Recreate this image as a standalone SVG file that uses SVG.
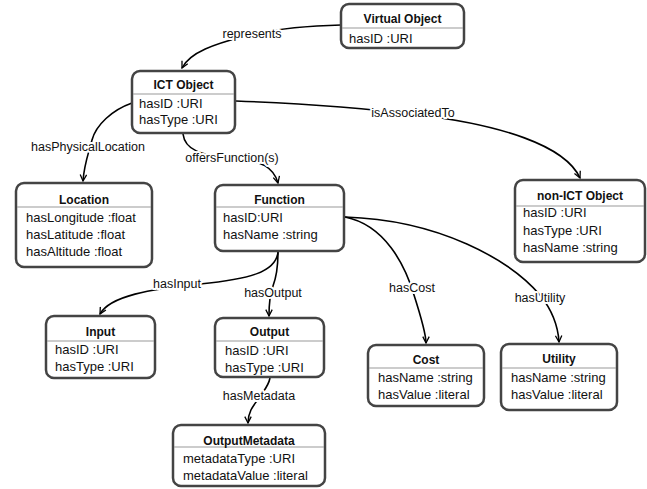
<svg xmlns="http://www.w3.org/2000/svg" width="647" height="489" viewBox="0 0 647 489">
<defs>
<marker id="arr" viewBox="0 0 10 10" refX="9" refY="5" markerWidth="8" markerHeight="8" markerUnits="userSpaceOnUse" orient="auto">
<path d="M1,1 L9,5 L1,9" fill="none" stroke="#000" stroke-width="1.6"/>
</marker>
</defs>
<style>
.box{fill:#fff;stroke:#444;stroke-width:2.5}
.sep{stroke:#999;stroke-width:1}
.t{font-family:"Liberation Sans",Arial,sans-serif;font-size:12px;font-weight:bold;fill:#111;text-anchor:middle}
.r{font-family:"Liberation Sans",Arial,sans-serif;font-size:13px;fill:#111}
.e{fill:none;stroke:#000;stroke-width:1.6;marker-end:url(#arr)}
.l{font-family:"Liberation Sans",Arial,sans-serif;font-size:12.5px;fill:#111;text-anchor:middle;paint-order:stroke;stroke:#fff;stroke-width:4;stroke-linejoin:round}
</style>
<rect width="647" height="489" fill="#fff"/>
<g id="connectors">
<path class="e" d="M341,25 C300,26 270,30 245,36 C215,44 190,52 182,68"/>
<path class="e" d="M236,101 C320,104 380,110 420,115 C500,125 565,145 580,178"/>
<path class="e" d="M132,103 C112,110 96,125 92,140 C88,155 84,165 83,181"/>
<path class="e" d="M183,134 C185,150 200,155 232,158 C262,160 274,168 278,183"/>
<path class="e" d="M278,252 C276,272 250,279 200,284 C150,289 110,296 100,314"/>
<path class="e" d="M278,252 C278,265 276,278 273,286 C270,294 269,305 269,316"/>
<path class="e" d="M270,378 C268,388 262,392 259,398 C253,406 248,412 248,423"/>
<path class="e" d="M345,217 C385,225 405,265 414,295 C422,320 426,335 426,343"/>
<path class="e" d="M345,217 C440,220 510,260 540,295 C552,310 558,325 559,342"/>
<text class="l" x="252" y="38">represents</text>
<text class="l" x="413" y="117">isAssociatedTo</text>
<text class="l" x="88" y="151">hasPhysicalLocation</text>
<text class="l" x="232" y="162">offersFunction(s)</text>
<text class="l" x="177" y="288">hasInput</text>
<text class="l" x="273" y="297">hasOutput</text>
<text class="l" x="259" y="400">hasMetadata</text>
<text class="l" x="412" y="292">hasCost</text>
<text class="l" x="540" y="302">hasUtility</text>
</g>
<g id="virtual-object">
<rect class="box" x="341" y="4" width="123" height="44" rx="8"/>
<line class="sep" x1="342" y1="28" x2="463" y2="28"/>
<text class="t" x="402.5" y="23">Virtual Object</text>
<text class="r" x="349" y="43">hasID :URI</text>
</g>
<g id="ict-object">
<rect class="box" x="132" y="71" width="103" height="62" rx="8"/>
<line class="sep" x1="133" y1="94" x2="234" y2="94"/>
<text class="t" x="183.5" y="89">ICT Object</text>
<text class="r" x="139" y="108">hasID :URI</text>
<text class="r" x="139" y="124">hasType :URI</text>
</g>
<g id="location">
<rect class="box" x="16" y="183" width="136" height="84" rx="8"/>
<line class="sep" x1="17" y1="207" x2="151" y2="207"/>
<text class="t" x="84" y="204">Location</text>
<text class="r" x="26" y="222">hasLongitude :float</text>
<text class="r" x="26" y="239">hasLatitude :float</text>
<text class="r" x="26" y="256">hasAltitude :float</text>
</g>
<g id="function">
<rect class="box" x="215" y="185" width="129" height="66" rx="8"/>
<line class="sep" x1="216" y1="207" x2="343" y2="207"/>
<text class="t" x="279.5" y="204">Function</text>
<text class="r" x="223" y="222">hasID:URI</text>
<text class="r" x="223" y="239">hasName :string</text>
</g>
<g id="non-ict-object">
<rect class="box" x="515" y="180" width="130" height="82" rx="8"/>
<line class="sep" x1="516" y1="206" x2="644" y2="206"/>
<text class="t" x="580" y="200">non-ICT Object</text>
<text class="r" x="523" y="217">hasID :URI</text>
<text class="r" x="523" y="235">hasType :URI</text>
<text class="r" x="523" y="252">hasName :string</text>
</g>
<g id="input">
<rect class="box" x="46" y="316" width="109" height="62" rx="8"/>
<line class="sep" x1="47" y1="341" x2="154" y2="341"/>
<text class="t" x="100.5" y="336">Input</text>
<text class="r" x="55" y="354">hasID :URI</text>
<text class="r" x="55" y="371">hasType :URI</text>
</g>
<g id="output">
<rect class="box" x="215" y="318" width="109" height="59" rx="8"/>
<line class="sep" x1="216" y1="341" x2="323" y2="341"/>
<text class="t" x="269.5" y="336">Output</text>
<text class="r" x="225" y="355">hasID :URI</text>
<text class="r" x="225" y="372">hasType :URI</text>
</g>
<g id="output-metadata">
<rect class="box" x="173" y="425" width="152" height="61" rx="8"/>
<line class="sep" x1="174" y1="447" x2="324" y2="447"/>
<text class="t" x="249" y="445">OutputMetadata</text>
<text class="r" x="183" y="463">metadataType :URI</text>
<text class="r" x="183" y="480">metadataValue :literal</text>
</g>
<g id="cost">
<rect class="box" x="368" y="345" width="116" height="61" rx="8"/>
<line class="sep" x1="369" y1="368" x2="483" y2="368"/>
<text class="t" x="426" y="364">Cost</text>
<text class="r" x="378" y="382">hasName :string</text>
<text class="r" x="378" y="399">hasValue :literal</text>
</g>
<g id="utility">
<rect class="box" x="501" y="344" width="116" height="66" rx="8"/>
<line class="sep" x1="502" y1="368" x2="616" y2="368"/>
<text class="t" x="559" y="363">Utility</text>
<text class="r" x="511" y="382">hasName :string</text>
<text class="r" x="511" y="399">hasValue :literal</text>
</g>
</svg>
